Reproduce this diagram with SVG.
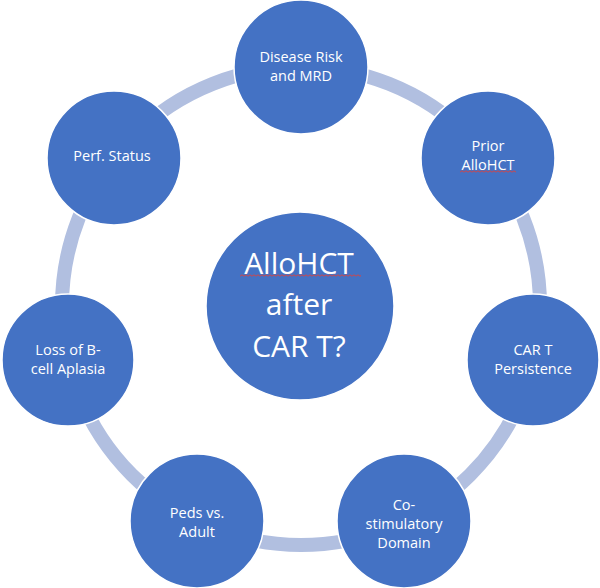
<svg xmlns="http://www.w3.org/2000/svg" width="600" height="588" viewBox="0 0 600 588">
  <style>
    .node { fill: #4472c4; stroke: #ffffff; stroke-width: 1.5; }
    .lbl { fill: #ffffff; font-family: "Open Sans", "Noto Sans", "Liberation Sans", sans-serif; font-size: 14.5px; text-anchor: middle; }
    .big { fill: #ffffff; font-family: "Open Sans", "Noto Sans", "Liberation Sans", sans-serif; font-size: 30px; text-anchor: middle; }
    .ring { fill: none; stroke: #b1bfe0; stroke-width: 14; }
  </style>
  <defs>
    <pattern id="waveA" patternUnits="userSpaceOnUse" x="240" y="274" width="4" height="3">
      <path d="M0 2.2 L2 0.8 L4 2.2" fill="none" stroke="#e0403a" stroke-width="0.9"/>
    </pattern>
    <pattern id="waveB" patternUnits="userSpaceOnUse" x="460" y="170" width="4" height="3">
      <path d="M0 2.2 L2 0.8 L4 2.2" fill="none" stroke="#e0403a" stroke-width="0.9"/>
    </pattern>
  </defs>
  <rect width="600" height="588" fill="#ffffff"/>
  <g id="connectors">
    <circle class="ring" cx="301" cy="306" r="239"/>
  </g>
  <g id="center">
    <circle class="node" cx="300" cy="306" r="94"/>
    <text class="big" x="299" y="274">AlloHCT</text>
    <rect x="240" y="274" width="121" height="3" fill="url(#waveA)"/>
    <text class="big" x="299" y="315">after</text>
    <text class="big" x="299" y="357">CAR T?</text>
  </g>
  <g id="disease-risk">
    <circle class="node" cx="301" cy="67" r="67"/>
    <text class="lbl" x="301" y="62">Disease Risk</text>
    <text class="lbl" x="301" y="81">and MRD</text>
  </g>
  <g id="prior-allohct">
    <circle class="node" cx="488" cy="158" r="67"/>
    <text class="lbl" x="488" y="151">Prior</text>
    <text class="lbl" x="488" y="170">AlloHCT</text>
    <rect x="460" y="170" width="56" height="3" fill="url(#waveB)"/>
  </g>
  <g id="car-t-persistence">
    <circle class="node" cx="533" cy="360" r="66"/>
    <text class="lbl" x="533" y="355">CAR T</text>
    <text class="lbl" x="533" y="374">Persistence</text>
  </g>
  <g id="costimulatory-domain">
    <circle class="node" cx="404" cy="521" r="67"/>
    <text class="lbl" x="404" y="510">Co-</text>
    <text class="lbl" x="404" y="529">stimulatory</text>
    <text class="lbl" x="404" y="548">Domain</text>
  </g>
  <g id="peds-vs-adult">
    <circle class="node" cx="197" cy="521" r="67"/>
    <text class="lbl" x="197" y="518">Peds vs.</text>
    <text class="lbl" x="197" y="537">Adult</text>
  </g>
  <g id="loss-b-cell-aplasia">
    <circle class="node" cx="68" cy="360" r="66"/>
    <text class="lbl" x="68" y="355">Loss of B-</text>
    <text class="lbl" x="68" y="374">cell Aplasia</text>
  </g>
  <g id="perf-status">
    <circle class="node" cx="114" cy="158" r="67"/>
    <text class="lbl" x="112" y="161">Perf. Status</text>
  </g>
</svg>
